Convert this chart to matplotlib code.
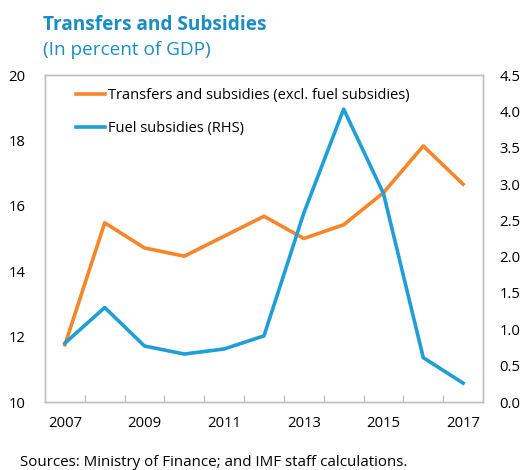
import numpy as np
import matplotlib
matplotlib.use("Agg")
from matplotlib import pyplot as plt

years = [2007, 2008, 2009, 2010, 2011, 2012, 2013, 2014, 2015, 2016, 2017]
transfers = [11.75, 15.48, 14.71, 14.46, 15.07, 15.68, 15.0, 15.42, 16.40, 17.83, 16.66]
fuel = [0.81, 1.30, 0.77, 0.66, 0.73, 0.91, 2.60, 4.03, 2.87, 0.61, 0.26]
xlabels = ["2007", "2009", "2011", "2013", "2015", "2017"]

plt.rcParams['font.family'] = ['Open Sans', 'DejaVu Sans']
orange = '#F7862A'
blue = '#1F9ED8'
grey = '#BFBFBF'

fig = plt.figure(figsize=(5.25, 4.7), dpi=100)
ax = fig.add_axes([45/525, 1-402/470, 438/525, 327/470])
ax2 = ax.twinx()

l1, = ax.plot(years, transfers, color=orange, lw=2.6, label='Transfers and subsidies (excl. fuel subsidies)')
l2, = ax2.plot(years, fuel, color=blue, lw=2.6, label='Fuel subsidies (RHS)')

ax.set_xlim(2006.5, 2017.5)
ax.set_ylim(10, 20)
ax2.set_ylim(0, 4.5)
ax.set_yticks(np.arange(10, 21, 2))
ax2.set_yticks(np.arange(0, 4.6, 0.5))
ax2.set_yticklabels(["%.1f" % v for v in np.arange(0, 4.6, 0.5)])

ax.set_xticks([int(s) for s in xlabels])
ax.set_xticklabels(xlabels)
ax.tick_params(axis='x', length=0, pad=10, labelsize=10.7)
ax.set_xticks(np.arange(2007.5, 2017, 1), minor=True)
ax.tick_params(axis='x', which='minor', direction='in', length=5, color=grey, width=1)
ax.tick_params(axis='y', length=0, pad=14, labelsize=10.7)
ax2.tick_params(axis='y', length=0, pad=12, labelsize=10.7)

for a in (ax, ax2):
    for s in a.spines.values():
        s.set_color(grey)
        s.set_linewidth(1)

leg = ax.legend(handles=[l1, l2], loc='upper left', bbox_to_anchor=(0.04, 1.0),
                frameon=False, fontsize=10.5, handlelength=2.0, handletextpad=0.2,
                labelspacing=1.25)

fig.text(43/525, 1-25/470, 'Transfers and Subsidies', fontsize=13.7, fontweight='bold',
         color='#1B8DC2', va='center')
fig.text(43/525, 1-50/470, '(In percent of GDP)', fontsize=13.7, color='#1B8DC2', va='center')
fig.text(20/525, 1-462/470, 'Sources: Ministry of Finance; and IMF staff calculations.',
         fontsize=10.9, color='black', va='center')

fig.savefig('out.png', dpi=100)
